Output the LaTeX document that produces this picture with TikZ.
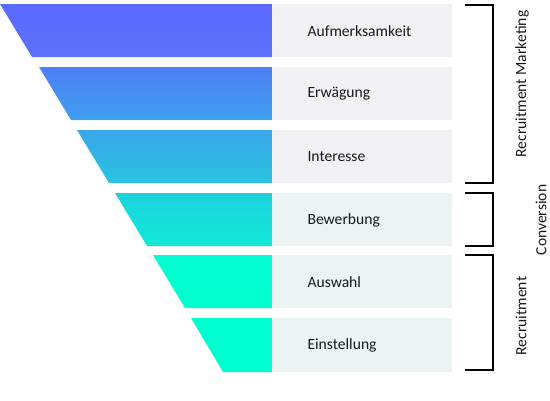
\documentclass[tikz,border=0pt]{standalone}
\usepackage{fontspec}
\setmainfont{Carlito}
\definecolor{stepA1}{HTML}{5C69FF}\definecolor{stepA2}{HTML}{5A72F8}
\definecolor{stepB1}{HTML}{4D80F6}\definecolor{stepB2}{HTML}{3E9EEE}
\definecolor{stepC1}{HTML}{38A8EA}\definecolor{stepC2}{HTML}{2BC2E2}
\definecolor{stepD1}{HTML}{1DD2DD}\definecolor{stepD2}{HTML}{10E8D6}
\definecolor{stepE1}{HTML}{03FDD0}\definecolor{stepE2}{HTML}{01FFD0}
\definecolor{stepF1}{HTML}{00FFD0}\definecolor{stepF2}{HTML}{00FFD0}
\definecolor{panelblue}{HTML}{F0F0F5}
\definecolor{panelgreen}{HTML}{EBF3F3}
\tikzset{
  steplabel/.style={anchor=west, font=\fontsize{15.6}{18}\selectfont, text=black!90},
  grouplabel/.style={rotate=90, font=\fontsize{15.6}{18}\selectfont, text=black!90, inner sep=1pt},
  bracket/.style={black, line width=1.3pt}
}
\begin{document}
\begin{tikzpicture}[x=1pt, y=-1pt]
  \useasboundingbox (0,0) rectangle (550,400);

  \shade[top color=stepA1, bottom color=stepA2] (0,4) -- (272,4) -- (272,57) -- (32,57) -- cycle;
  \fill[panelblue] (272,4) rectangle (452,57);
  \node[steplabel] (aufmerksamkeit) at (304,31) {Aufmerksamkeit};

  \shade[top color=stepB1, bottom color=stepB2] (39,67) -- (272,67) -- (272,120) -- (71,120) -- cycle;
  \fill[panelblue] (272,67) rectangle (452,120);
  \node[steplabel] (erwaegung) at (304,94) {Erwägung};

  \shade[top color=stepC1, bottom color=stepC2] (77,130) -- (272,130) -- (272,183) -- (109,183) -- cycle;
  \fill[panelblue] (272,130) rectangle (452,183);
  \node[steplabel] (interesse) at (304,157) {Interesse};

  \shade[top color=stepD1, bottom color=stepD2] (115,193) -- (272,193) -- (272,246) -- (147,246) -- cycle;
  \fill[panelgreen] (272,193) rectangle (452,246);
  \node[steplabel] (bewerbung) at (304,220) {Bewerbung};

  \shade[top color=stepE1, bottom color=stepE2] (153,255) -- (272,255) -- (272,308) -- (185,308) -- cycle;
  \fill[panelgreen] (272,255) rectangle (452,308);
  \node[steplabel] (auswahl) at (304,282) {Auswahl};

  \shade[top color=stepF1, bottom color=stepF2] (191,318) -- (272,318) -- (272,372) -- (223,372) -- cycle;
  \fill[panelgreen] (272,318) rectangle (452,372);
  \node[steplabel] (einstellung) at (304,345.5) {Einstellung};

  % brackets
  \draw[bracket] (465,5) -- (493,5) -- (493,183) -- (465,183);
  \node[grouplabel] (marketing) at (522,84) {Recruitment Marketing};

  \draw[bracket] (465,193) -- (493,193) -- (493,246) -- (465,246);
  \node[grouplabel] (conversion) at (541,220) {Conversion};

  \draw[bracket] (465,255) -- (493,255) -- (493,370) -- (465,370);
  \node[grouplabel] (recruitment) at (521,316) {Recruitment};
\end{tikzpicture}
\end{document}
